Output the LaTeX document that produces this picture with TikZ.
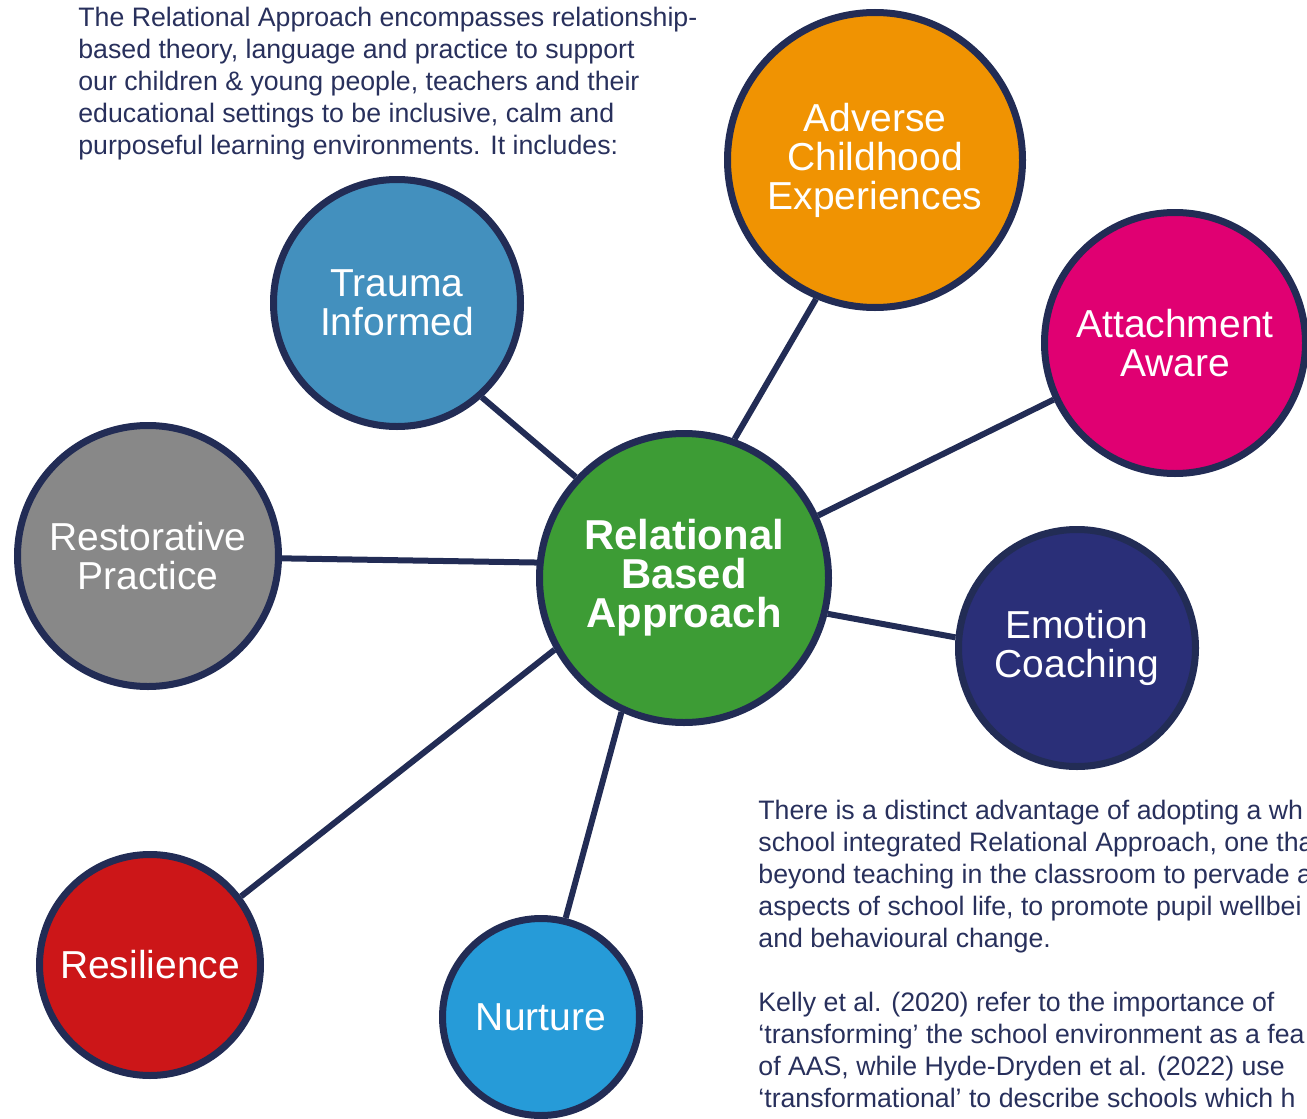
\documentclass[tikz,border=0pt]{standalone}
\usepackage{fontspec}
\setmainfont{Liberation Sans}
\usepackage{tikz}
\usetikzlibrary{shapes,positioning}
\usepackage{xcolor}
\definecolor{rbanavy}{RGB}{34,44,85}
\definecolor{rbatext}{RGB}{40,48,92}
\definecolor{rbagreen}{RGB}{61,156,53}
\definecolor{rbablue}{RGB}{67,144,190}
\definecolor{rbaorange}{RGB}{240,147,2}
\definecolor{rbamagenta}{RGB}{224,0,114}
\definecolor{rbagrey}{RGB}{136,136,136}
\definecolor{rbaindigo}{RGB}{42,47,120}
\definecolor{rbared}{RGB}{204,22,24}
\definecolor{rbasky}{RGB}{38,155,216}
\tikzstyle{bubble} = [circle, draw=rbanavy, line width=3.5pt, inner sep=0pt, text=white, align=center, font=\fontsize{19.5}{19.5}\selectfont]
\tikzstyle{spoke} = [line width=3pt, color=rbanavy]
\tikzstyle{blurb} = [anchor=base west, inner sep=0pt, align=left, text=rbatext, font=\fontsize{13.35}{16}\selectfont]

\begin{document}
\begin{tikzpicture}[x=0.5pt,y=-0.5pt]
\useasboundingbox (0,0) rectangle (1307,1119);
\clip (0,0) rectangle (1307,1119);
% Text blocks (anchored at the last baseline)
\node (intro) [blurb] at (78,154) {The Relational Approach encompasses relationship-\\based theory, language and practice to support\\our children \& young people, teachers and their\\educational settings to be inclusive, calm and\\purposeful learning environments. It includes:};
\node (advantage) [blurb] at (758,1107) {There is a distinct advantage of adopting a wh\\school integrated Relational Approach, one tha\\beyond teaching in the classroom to pervade a\\aspects of school life, to promote pupil wellbei\\and behavioural change.\\[16pt]Kelly et al. (2020) refer to the importance of\\`transforming' the school environment as a fea\\of AAS, while Hyde-Dryden et al. (2022) use\\`transformational' to describe schools which h};

% Bubbles
\node (rba) [bubble, minimum size=144.5pt, fill=rbagreen, font=\fontsize{20.9}{19.5}\selectfont\bfseries] at (684,578) {Relational\\Based\\Approach};
\node (tr) [bubble, minimum size=123.5pt, fill=rbablue] at (397,303) {Trauma\\Informed};
\node (ace) [bubble, minimum size=147.5pt, fill=rbaorange] at (875,160) {Adverse\\Childhood\\Experiences};
\node (att) [bubble, minimum size=130.5pt, fill=rbamagenta] at (1175,343) {Attachment\\Aware};
\node (rp) [bubble, minimum size=130.5pt, fill=rbagrey] at (148,556) {Restorative\\Practice};
\node (ec) [bubble, minimum size=118.5pt, fill=rbaindigo] at (1077,648) {Emotion\\Coaching};
\node (res) [bubble, minimum size=110.5pt, fill=rbared] at (150,965) {Resilience};
\node (nur) [bubble, minimum size=98.5pt, fill=rbasky] at (541,1017) {Nurture};

% Spokes
\draw[spoke] (rba.137) -- (tr.-48);
\draw[spoke] (rba.70) -- (ace.247);
\draw[spoke] (rba.25) -- (att.205);
\draw[spoke] (rba.-14) -- (ec.175);
\draw[spoke] (rba.174) -- (rp.-1);
\draw[spoke] (rba.209) -- (res.37);
\draw[spoke] (rba.245) -- (nur.76);
\end{tikzpicture}
\end{document}
